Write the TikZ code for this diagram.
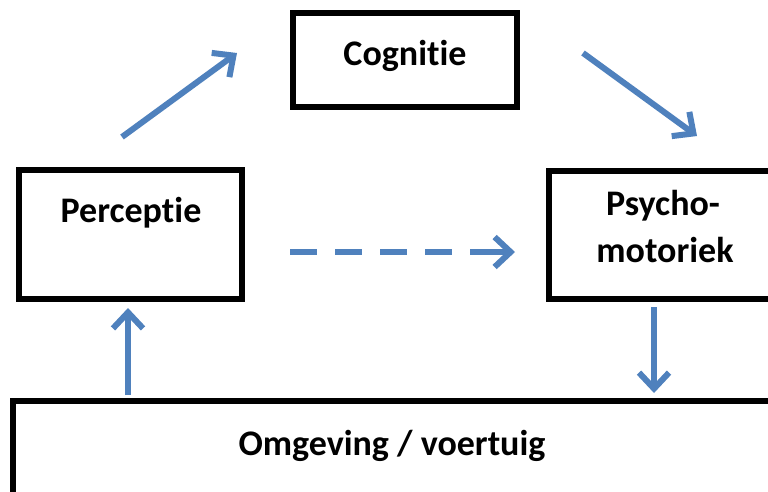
\documentclass[tikz,border=0pt]{standalone}
\usepackage{fontspec}
\setmainfont{Carlito}[Ligatures={NoCommon}]
\usetikzlibrary{arrows.meta}
\definecolor{arrowblue}{HTML}{4F81BD}
\begin{document}
\begin{tikzpicture}[x=1pt,y=-1pt,
  box/.style={draw=black, line width=5.5pt, fill=white, inner sep=0pt},
  lbl/.style={font=\fontsize{36}{47}\selectfont\bfseries, anchor=base, inner sep=0pt},
  flow/.style={draw=arrowblue, line width=6pt, -{Straight Barb[length=16pt,width=30pt]}},
]
\useasboundingbox (0,0) rectangle (768,491);
\fill[white] (0,0) rectangle (768,491);

% boxes
\node[box, minimum width=224pt, minimum height=94pt]  (cog)  at (405,60) {};
\node[box, minimum width=223pt, minimum height=129pt] (perc) at (130.5,234.5) {};
\node[box, minimum width=251pt, minimum height=128pt] (psy)  at (674.5,235) {};
\node[box, minimum width=787pt, minimum height=119pt] (omg)  at (406.5,460.5) {};

% labels
\node[lbl] (cogt)  at (405,65)  {Cognitie};
\node[lbl] (perct) at (131,222) {Perceptie};
\node[lbl] (psyt1) at (663,215) {Psycho-};
\node[lbl] (psyt2) at (665,262) {motoriek};
\node[lbl] (omgt)  at (392,455) {Omgeving / voertuig};

% connector end points
\coordinate (p2c-s) at (122,137);
\coordinate (p2c-e) at (237,53);
\coordinate (c2m-s) at (583,53);
\coordinate (c2m-e) at (697,136);
\coordinate (p2m-s) at (290,252);
\coordinate (p2m-e) at (515,252);
\coordinate (m2o-s) at (654,307);
\coordinate (m2o-e) at (654,393);
\coordinate (o2p-s) at (128,395);
\coordinate (o2p-e) at (128,308);

% connectors
\draw[flow] (p2c-s) -- (p2c-e);
\draw[flow] (c2m-s) -- (c2m-e);
\draw[flow, dash pattern=on 27pt off 18pt on 27pt off 18pt on 27pt off 18pt on 27pt off 18pt on 80pt] (p2m-s) -- (p2m-e);
\draw[flow] (m2o-s) -- (m2o-e);
\draw[flow] (o2p-s) -- (o2p-e);
\end{tikzpicture}
\end{document}
